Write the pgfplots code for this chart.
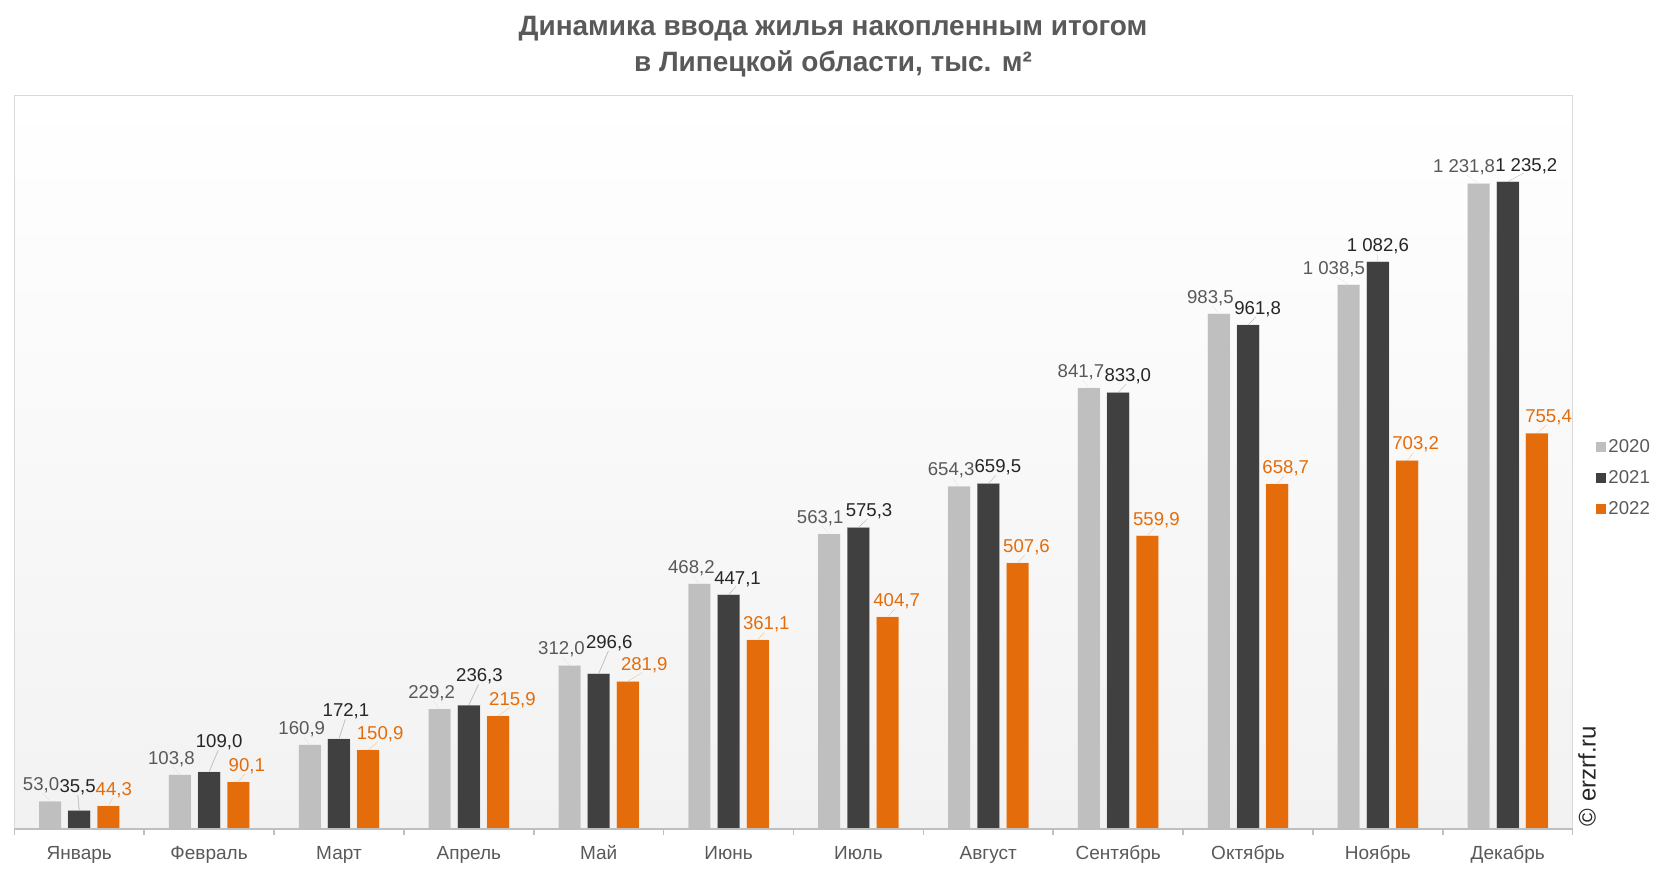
\documentclass[border=0pt]{standalone}
\usepackage{fontspec}
\setmainfont{Liberation Sans}
\usepackage{pgfplots}
\pgfplotsset{compat=1.18}
\usepackage{pgfplotstable}

\definecolor{cA}{HTML}{BFBFBF}
\definecolor{cB}{HTML}{404040}
\definecolor{cC}{HTML}{E46C0A}
\definecolor{tA}{HTML}{595959}
\definecolor{tB}{HTML}{262626}
\definecolor{frameC}{HTML}{D9D9D9}
\definecolor{axC}{HTML}{BFBFBF}
\definecolor{bgC}{HTML}{F2F2F2}
\definecolor{bgM}{HTML}{F4F4F4}
\definecolor{leadC}{HTML}{C8C8C8}

\pgfplotstableread{
x y dx dy ld
0 53.0 -4.5 0 0
1 103.8 -4.25 0 0
2 160.9 -4 0 0
3 229.2 -4 0 0
4 312.0 -4 0 0
5 468.2 -4 0 0
6 563.1 -4.5 0 0
7 654.3 -4 0 0
8 841.7 -4 0 0
9 983.5 -4.25 0 0
10 1038.5 -7.4 0 0
11 1231.8 -7.25 0 0
}\tA

\pgfplotstableread{
x y dx dy ld
0 35.5 -0.8 3.7 1
1 109.0 5 6.9 1
2 172.1 3.5 5.8 1
3 236.3 5.3 6.4 1
4 296.6 5.3 7.4 1
5 447.1 4.5 0 0
6 575.3 5.3 0 0
7 659.5 4.8 0 0
8 833.0 4.8 0 0
9 961.8 4.8 0 0
10 1082.6 0 0 0
11 1235.2 9.25 0 0
}\tB

\pgfplotstableread{
x y dx dy ld
0 44.3 2.7 0 0
1 90.1 4.25 0 0
2 150.9 6 0 0
3 215.9 7.2 0 0
4 281.9 8.2 0 0
5 361.1 4.25 0 0
6 404.7 4.5 0 0
7 507.6 4.5 0 0
8 559.9 4.5 0 0
9 658.7 4.25 0 0
10 703.2 4.25 0 0
11 755.4 5.8 0 0
}\tC

\pgfplotsset{
  sqleg/.style={legend image code/.code={\fill[##1,draw=none] (0pt,-2.5pt) rectangle (5pt,2.5pt);}},
}

\begin{document}
\begin{tikzpicture}
\path[use as bounding box] (0,0) rectangle (833pt,436pt);
\node[font=\bfseries\fontsize{14}{16}\selectfont, text=tA, anchor=base] at (416.5pt,418pt) {Динамика ввода жилья накопленным итогом};
\node[font=\bfseries\fontsize{14}{16}\selectfont, text=tA, anchor=base] at (416.5pt,400pt) {в Липецкой области, тыс. м²};
\begin{axis}[
  at={(7.15pt,21.5pt)}, anchor=south west,
  width=779.2pt, height=366.85pt, scale only axis,
  xmin=-0.5, xmax=11.5, ymin=0, ymax=1400,
  ybar=3.35pt, bar width=11.25pt,
  axis line style={draw=none},
  axis background/.style={shade, top color=white, middle color=bgM, bottom color=bgC, draw=frameC, line width=0.5pt},
  ytick=\empty,
  xtick={-0.5,0.5,1.5,2.5,3.5,4.5,5.5,6.5,7.5,8.5,9.5,10.5,11.5},
  x tick label as interval,
  xtick pos=bottom,
  xticklabels={Январь,Февраль,Март,Апрель,Май,Июнь,Июль,Август,Сентябрь,Октябрь,Ноябрь,Декабрь},
  major tick length=3pt, tick align=outside,
  xtick style={draw=axC, line width=0.75pt},
  xticklabel style={font=\fontsize{9.5}{10}\selectfont, text=tA, anchor=base, yshift=-12.2pt},
  nodes near coords={\pgfmathprintnumber[fixed,fixed zerofill,precision=1,use comma,1000 sep={\ },assume math mode=true]{\pgfplotspointmeta}},
  visualization depends on={\thisrow{dx} \as \dx},
  visualization depends on={\thisrow{dy} \as \dy},
  visualization depends on={\thisrow{ld} \as \ld},
  every node near coord/.append style={inner sep=0pt, text depth=0pt, font=\fontsize{9.3}{10}\selectfont, xshift=\dx pt, yshift={5pt+\dy pt},
    append after command={(\tikzlastnode.south) edge[draw=leadC, line width=0.4pt, draw opacity=\ld, shorten <=1.2pt, shorten >=0.3pt] +({-\dx pt},{-5pt-\dy pt})}},
  legend style={at={(axis description cs:1.015,0.478)}, anchor=west, draw=none, fill=none, font=\fontsize{9.3}{10}\selectfont, text=tA, row sep=5.6pt, inner sep=0pt, nodes={inner sep=1pt}},
  legend cell align=left,
  after end axis/.code={\draw[axC, line width=0.75pt] (rel axis cs:0,0) -- (rel axis cs:1,0);},
  clip=false,
]
\addplot[fill=cA, draw=white, draw opacity=0.35, line width=0.5pt, sqleg, every node near coord/.append style={text=tA}] table[x=x,y=y] {\tA};
\addplot[fill=cB, draw=white, draw opacity=0.35, line width=0.5pt, sqleg, every node near coord/.append style={text=tB}] table[x=x,y=y] {\tB};
\addplot[fill=cC, draw=white, draw opacity=0.35, line width=0.5pt, sqleg, every node near coord/.append style={text=cC}] table[x=x,y=y] {\tC};
\legend{2020,2021,2022}
\end{axis}
\node[rotate=90, font=\fontsize{12}{13}\selectfont, text=tB] at (793.5pt,48pt) {© erzrf.ru};
\end{tikzpicture}
\end{document}
